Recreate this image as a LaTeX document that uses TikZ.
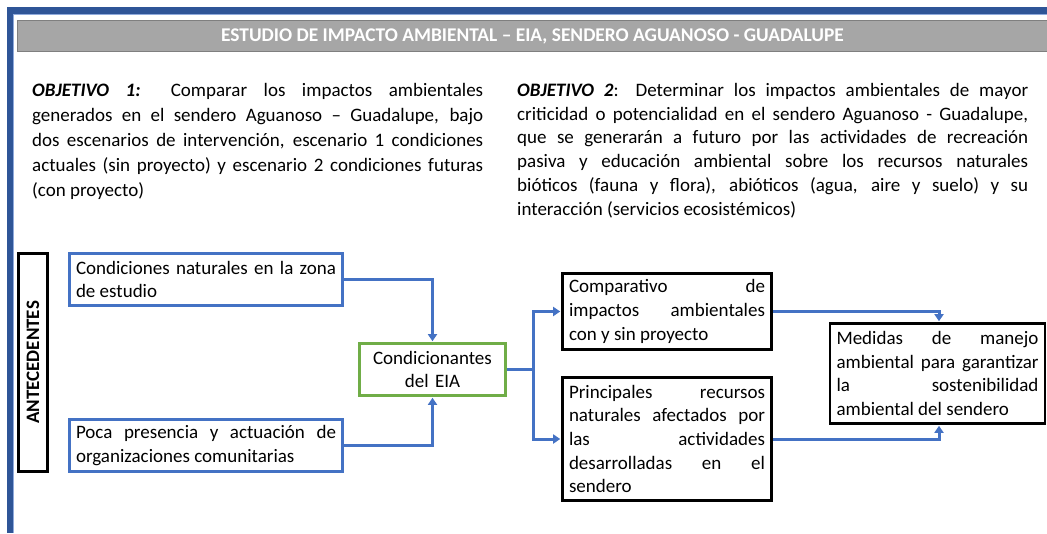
\documentclass[tikz,border=0pt]{standalone}
\usepackage{fontspec}
\setmainfont{Carlito}
\usetikzlibrary{arrows.meta}
\definecolor{frameblue}{HTML}{2F5597}
\definecolor{framelight}{HTML}{8FAADC}
\definecolor{barfill}{HTML}{A6A6A6}
\definecolor{barline}{HTML}{7F7F7F}
\definecolor{connblue}{HTML}{4472C4}
\definecolor{boxgreen}{HTML}{70AD47}
\tikzset{
  bodyfont/.style={font=\fontsize{19}{23.6}\selectfont},
  bluebox/.style={draw=connblue, line width=3pt, bodyfont, align=justify, inner xsep=6.5pt, inner ysep=0pt},
  blackbox/.style={draw=black, line width=2.6pt, bodyfont, align=justify, inner xsep=6.5pt, inner ysep=0pt},
  greenbox/.style={draw=boxgreen, line width=2.6pt, bodyfont, align=center, inner sep=0pt},
  conn/.style={draw=connblue, line width=3pt},
  connarrow/.style={conn, -{Triangle[length=7pt,width=9pt]}, shorten >=1pt},
  objtext/.style={font=\fontsize{19}{#1}\selectfont, align=justify, inner sep=0pt, anchor=north west}
}
\begin{document}
\begin{tikzpicture}[x=1pt,y=-1pt]
\useasboundingbox (0,0) rectangle (1047,533);
% frame
\fill[frameblue] (7,7) rectangle (1047,14);
\fill[frameblue] (7,7) rectangle (13,533);
\draw[framelight, line width=1pt] (13.5,533) |- (1047,14.5);
% title bar
\draw[barline, fill=barfill, line width=1.5pt] (17.5,20.5) rectangle (1050,51.5);
\node[font=\bfseries\fontsize{19.4}{19}\selectfont, text=white, inner sep=0pt] (title) at (532.5,36) {ESTUDIO DE IMPACTO AMBIENTAL – EIA, SENDERO AGUANOSO - GUADALUPE};
% objectives
\node[objtext=25, text width=451] (obj1) at (32,83.5) {\textbf{\textit{OBJETIVO 1:}} Comparar los impactos ambientales\linebreak generados en el sendero Aguanoso – Guadalupe, bajo\linebreak dos escenarios de intervención, escenario 1 condiciones\linebreak actuales (sin proyecto) y escenario 2 condiciones futuras\linebreak (con proyecto)};
\node[objtext=23.8, text width=511] (obj2) at (517,83) {\textbf{\textit{OBJETIVO 2}}: Determinar los impactos ambientales de mayor\linebreak criticidad o potencialidad en el sendero Aguanoso - Guadalupe,\linebreak que se generarán a futuro por las actividades de recreación\linebreak pasiva y educación ambiental sobre los recursos naturales\linebreak bióticos (fauna y flora), abióticos (agua, aire y suelo) y su\linebreak interacción (servicios ecosistémicos)};
% boxes
\node[draw=black, line width=2.6pt, rotate=90, minimum width=218pt, minimum height=29pt, inner sep=0pt, font=\bfseries\fontsize{19}{19}\selectfont] (ant) at (33,362.5) {ANTECEDENTES};
\node[bluebox, text width=260pt, minimum height=52pt] (cond) at (206,279.5) {Condiciones naturales en la zona\linebreak de estudio};
\node[bluebox, text width=260pt, minimum height=52pt] (poca) at (206,445.5) {Poca presencia y actuación de\linebreak organizaciones comunitarias};
\node[greenbox, text width=146pt, minimum height=52pt] (eia) at (432.5,369.5) {Condicionantes\\del EIA};
\node[blackbox, text width=196pt, minimum height=76pt] (comp) at (667,311.5) {Comparativo de\linebreak impactos ambientales\linebreak con y sin proyecto};
\node[blackbox, text width=196pt, minimum height=123pt] (princ) at (667,439) {Principales recursos\linebreak naturales afectados por\linebreak las actividades\linebreak desarrolladas en el\linebreak sendero};
\node[blackbox, text width=202pt, minimum height=100pt] (med) at (937.5,373.5) {Medidas de manejo\linebreak ambiental para garantizar\linebreak la sostenibilidad\linebreak ambiental del sendero};
% connectors
\coordinate (br) at (533,369.5);
\coordinate (mx) at (939,0);
\draw[connarrow] (cond.east) -| (eia.north);
\draw[connarrow] (poca.east) -| (eia.south);
\draw[conn] (eia.east) -- (br);
\draw[connarrow] (br) |- (comp.west);
\draw[connarrow] (br) |- (princ.west);
\draw[connarrow] (comp.east) -| (mx |- med.north);
\draw[connarrow] (princ.east) -| (mx |- med.south);
\end{tikzpicture}
\end{document}
